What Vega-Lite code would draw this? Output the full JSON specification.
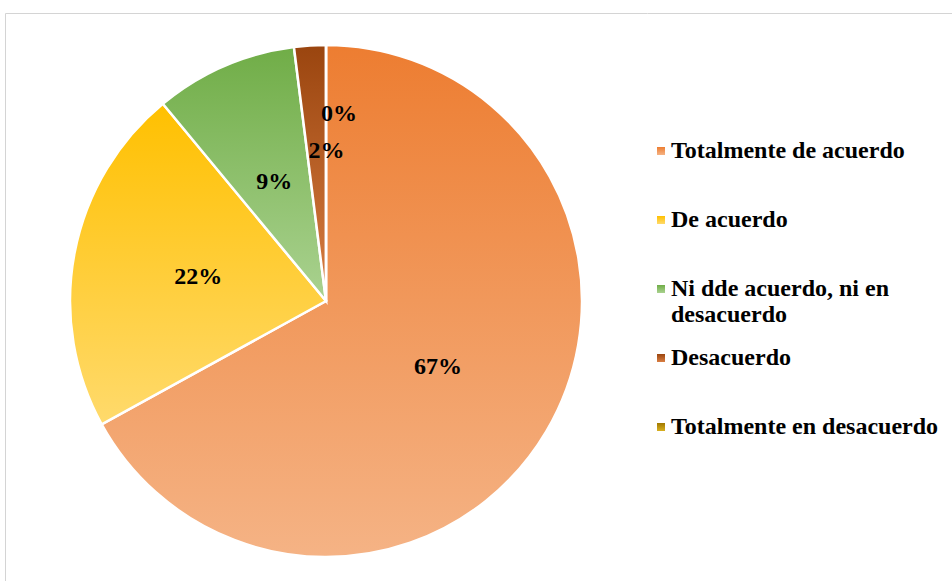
{
  "$schema": "https://vega.github.io/schema/vega-lite/v6.json",
  "padding": {"left": 4, "top": 12, "right": 0, "bottom": 0},
  "background": "white",
  "spacing": 0,
  "bounds": "flush",
  "config": {
    "font": "Liberation Serif"
  },
  "data": {
    "values": [
      {"categoria": "Totalmente de acuerdo", "orden": 1, "valor": 0.67},
      {"categoria": "De acuerdo", "orden": 2, "valor": 0.22},
      {"categoria": "Ni dde acuerdo, ni en desacuerdo", "orden": 3, "valor": 0.09},
      {"categoria": "Desacuerdo", "orden": 4, "valor": 0.02},
      {"categoria": "Totalmente en desacuerdo", "orden": 5, "valor": 0.0}
    ]
  },
  "hconcat": [
    {
      "width": 642,
      "height": 576,
      "view": {"stroke": "#D4D4D4", "strokeWidth": 1, "strokeDash": [642, 1218, 576, 0]},
      "encoding": {
        "theta": {"field": "valor", "type": "quantitative", "stack": true},
        "order": {"field": "orden", "type": "quantitative"}
      },
      "layer": [
        {
          "mark": {"type": "arc", "outerRadius": 256, "stroke": "white", "strokeWidth": 2.5},
          "encoding": {
            "color": {
              "field": "categoria",
              "type": "nominal",
              "scale": {
                "domain": [
                  "Totalmente de acuerdo",
                  "De acuerdo",
                  "Ni dde acuerdo, ni en desacuerdo",
                  "Desacuerdo",
                  "Totalmente en desacuerdo"
                ],
                "range": [
                  {"expr": "{gradient: 'linear', x1: 0, y1: 0, x2: 0, y2: 1, stops: [{offset: 0, color: '#ED7D31'}, {offset: 1, color: '#F5B385'}]}"},
                  {"expr": "{gradient: 'linear', x1: 0, y1: 0, x2: 0, y2: 1, stops: [{offset: 0, color: '#FFC000'}, {offset: 1, color: '#FFDA6C'}]}"},
                  {"expr": "{gradient: 'linear', x1: 0, y1: 0, x2: 0, y2: 1, stops: [{offset: 0, color: '#70AD47'}, {offset: 1, color: '#AAD290'}]}"},
                  {"expr": "{gradient: 'linear', x1: 0, y1: 0, x2: 0, y2: 1, stops: [{offset: 0, color: '#9A450F'}, {offset: 1, color: '#D97E42'}]}"},
                  {"expr": "{gradient: 'linear', x1: 0, y1: 0, x2: 0, y2: 1, stops: [{offset: 0, color: '#A07800'}, {offset: 1, color: '#D8B020'}]}"}
                ]
              },
              "legend": {
                "title": null,
                "orient": "none",
                "legendX": 644,
                "legendY": 126,
                "padding": 0,
                "symbolType": "square",
                "symbolSize": 64,
                "symbolStrokeWidth": 0,
                "labelOffset": -2,
                "labelFont": "Liberation Serif",
                "labelFontSize": 24,
                "labelFontWeight": "bold",
                "labelColor": "black",
                "labelLimit": 400,
                "labelLineHeight": 25,
                "gridAlign": "all",
                "rowPadding": 19,
                "labelExpr": "datum.label == 'Ni dde acuerdo, ni en desacuerdo' ? ['Ni dde acuerdo, ni en', 'desacuerdo'] : datum.label"
              }
            }
          }
        },
        {
          "mark": {
            "type": "text",
            "font": "Liberation Serif",
            "fontSize": 24,
            "fontWeight": "bold",
            "fill": "black",
            "radius": {"expr": "datum.orden == 5 ? 187 : datum.orden == 4 ? 150 : 130"},
            "dx": {"expr": "datum.orden == 5 ? 13 : datum.orden == 4 ? 10 : 0"}
          },
          "encoding": {
            "detail": {"field": "categoria", "type": "nominal"},
            "text": {"field": "valor", "type": "quantitative", "format": ".0%"}
          }
        }
      ]
    },
    {
      "width": 320,
      "height": 576,
      "view": {"stroke": "#D4D4D4", "strokeWidth": 1, "strokeDash": [320, 5000]},
      "mark": {"type": "text"},
      "encoding": {"text": {"value": ""}}
    }
  ]
}
